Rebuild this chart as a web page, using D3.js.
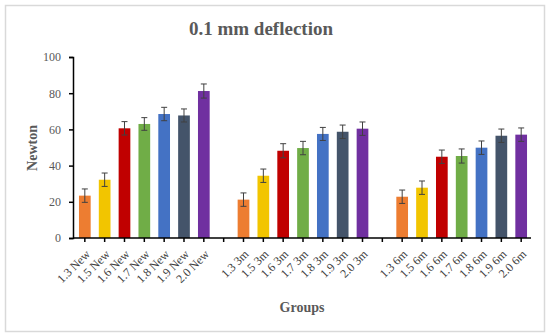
<!DOCTYPE html>
<html>
<head>
<meta charset="utf-8">
<script src="https://cdn.jsdelivr.net/npm/d3@7.9.0/dist/d3.min.js"></script>
<style>
  body { margin: 0; background: #fff; }
  svg text { font-family: "Palatino Linotype", "Book Antiqua", Palatino, "Liberation Serif", serif; }
</style>
</head>
<body>
<svg width="550" height="336"></svg>
<script>
// data
const groups = ['1.3 New', '1.5 New', '1.6 New', '1.7 New', '1.8 New', '1.9 New', '2.0 New', '',
  '1.3 3m', '1.5 3m', '1.6 3m', '1.7 3m', '1.8 3m', '1.9 3m', '2.0 3m', ' ',
  '1.3 6m', '1.5 6m', '1.6 6m', '1.7 6m', '1.8 6m', '1.9 6m', '2.0 6m'];
const values = [23.4, 32.2, 60.6, 63.0, 68.5, 67.7, 81.2, null,
  21.2, 34.4, 48.2, 49.7, 57.5, 58.7, 60.4, null,
  22.8, 27.8, 44.9, 45.3, 49.9, 56.5, 57.1];
const errors = [3.7, 3.7, 3.7, 3.5, 3.7, 3.6, 3.9, null,
  3.7, 3.7, 3.9, 3.7, 3.6, 3.7, 3.7, null,
  3.7, 3.7, 3.7, 3.9, 3.7, 3.7, 3.7];
const palette = ['#ED7D31', '#F2C500', '#C00000', '#70AD47', '#4472C4', '#44546A', '#7030A0'];
const yTicks = [0, 20, 40, 60, 80, 100];

const svg = d3.select('svg');

// outer frame
svg.append('rect')
  .attr('x', 5.5).attr('y', 5.5).attr('width', 539).attr('height', 326)
  .attr('fill', 'none').attr('stroke', '#d9d9d9').attr('stroke-width', 1.5);

const x = d3.scaleBand().domain(groups).range([75, 531]).paddingInner(0.41).paddingOuter(0.2);
const y = d3.scaleLinear().domain([0, 100]).range([238, 57]);

const data = groups.map((g, i) => ({ g, v: values[i], e: errors[i], c: palette[i % 8] }))
  .filter(d => d.v != null);

svg.selectAll('rect.bar')
  .data(data)
  .join('rect')
  .attr('class', 'bar')
  .attr('x', d => x(d.g))
  .attr('width', x.bandwidth())
  .attr('y', d => y(d.v))
  .attr('height', d => y(0) - y(d.v))
  .attr('fill', d => d.c);

// error bars
const err = svg.append('g').attr('stroke', '#404040').attr('stroke-width', 1);
data.forEach(d => {
  const cx = x(d.g) + x.bandwidth() / 2;
  err.append('line').attr('x1', cx).attr('x2', cx).attr('y1', y(d.v - d.e)).attr('y2', y(d.v + d.e));
  err.append('line').attr('x1', cx - 3).attr('x2', cx + 3).attr('y1', y(d.v + d.e)).attr('y2', y(d.v + d.e));
  err.append('line').attr('x1', cx - 3).attr('x2', cx + 3).attr('y1', y(d.v - d.e)).attr('y2', y(d.v - d.e));
});

// y axis
const yAxis = svg.append('g')
  .attr('transform', 'translate(73,0)')
  .call(d3.axisLeft(y).tickValues(yTicks).tickSize(4).tickPadding(8));
yAxis.select('.domain').attr('stroke', '#000').attr('stroke-width', 1.5);
yAxis.selectAll('.tick line').attr('stroke', '#000').attr('stroke-width', 1.5);
yAxis.selectAll('.tick text').attr('font-size', 12).attr('fill', '#595959')
  .style('font-family', '"Palatino Linotype", "Book Antiqua", "Liberation Serif", serif');

// x axis
const xAxis = svg.append('g')
  .attr('transform', 'translate(0,238)')
  .call(d3.axisBottom(x).tickSize(4).tickSizeOuter(0));
xAxis.select('.domain').attr('stroke', '#000').attr('stroke-width', 1.5)
  .attr('d', 'M73,0H531');
xAxis.selectAll('.tick line').attr('stroke', '#000').attr('stroke-width', 1.5);
xAxis.selectAll('.tick text')
  .attr('font-size', 12).attr('fill', '#404040')
  .attr('text-anchor', 'end')
  .attr('x', 0).attr('y', 0).attr('dy', '0.35em')
  .attr('transform', 'translate(3,14) rotate(-45)')
  .style('font-family', '"Palatino Linotype", "Book Antiqua", "Liberation Serif", serif');

// title and axis titles
svg.append('text')
  .attr('x', 261).attr('y', 35)
  .attr('text-anchor', 'middle')
  .attr('font-size', 19).attr('font-weight', 'bold').attr('fill', '#595959')
  .text('0.1 mm deflection');

svg.append('text')
  .attr('transform', 'translate(37,148) rotate(-90)')
  .attr('text-anchor', 'middle')
  .attr('font-size', 14).attr('font-weight', 'bold').attr('fill', '#595959')
  .text('Newton');

svg.append('text')
  .attr('x', 302).attr('y', 312)
  .attr('text-anchor', 'middle')
  .attr('font-size', 14).attr('font-weight', 'bold').attr('fill', '#595959')
  .text('Groups');
</script>
</body>
</html>
